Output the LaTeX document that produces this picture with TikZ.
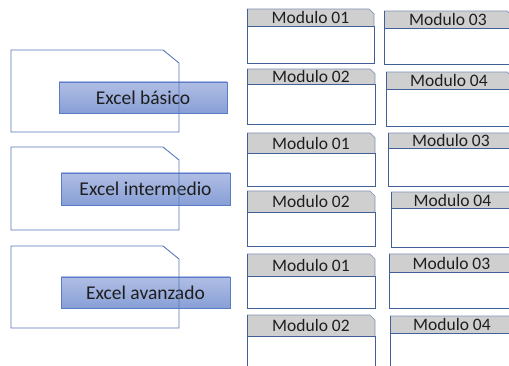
\documentclass[tikz,border=0pt]{standalone}
\usepackage{fontspec}
\setmainfont{Carlito}
\definecolor{bigline}{HTML}{5676BA}
\definecolor{lbltop}{HTML}{B0BEE4}
\definecolor{lblbot}{HTML}{889FD6}
\definecolor{lblline}{HTML}{5A7CC8}
\definecolor{modline}{HTML}{41609A}
\definecolor{hdrfill}{HTML}{CFCFCF}
\definecolor{hdrline}{HTML}{8294B8}
\definecolor{txt}{HTML}{1E1E1E}
\tikzset{
  bigshape/.style={draw=bigline, line width=0.9pt},
  lblbox/.style={draw=lblline, line width=0.7pt, top color=lbltop, bottom color=lblbot,
     inner sep=0pt, text=txt, font=\fontsize{19.5}{22}\selectfont},
  modframe/.style={draw=modline, line width=0.9pt},
  hdrframe/.style={draw=hdrline, line width=0.7pt},
  modtext/.style={inner sep=0pt, text=txt, font=\fontsize{17.5}{20}\selectfont},
}
% #1 name, #2 x-left, #3 x-right, #4 top, #5 header bottom, #6 bottom, #7 text
\newcommand\modbox[7]{%
  \fill[hdrfill] (#2,#4) -- (#3-5,#4) -- (#3,#4+5) -- (#3,#5) -- (#2,#5) -- cycle;
  \draw[hdrframe] (#2,#4) -- (#3-5,#4) -- (#3,#4+5) -- (#3,#5);
  \draw[modframe] (#2,#4) -- (#2,#6) -- (#3,#6) -- (#3,#5) -- (#2,#5);
  \node[modtext] (#1) at ({(#2+#3)/2},{(#4+#5)/2}) {#7};
}
% #1 name, #2 top, #3 bottom, #4 label x-left, #5 label x-right, #6 label top, #7 label bottom
\newcommand\bigbox[8]{%
  \node[lblbox, minimum width={#5-#4}, minimum height={#7-#6}] (#1)
     at ({(#4+#5)/2},{(#6+#7)/2}) {#8};
  \draw[bigshape] (11,#2) -- (163,#2) -- (179,#2+13) -- (179,#3) -- (11,#3) -- cycle;
}
\begin{document}
\begin{tikzpicture}[x=1pt,y=-1pt]
\useasboundingbox (0,0) rectangle (509,366);
\clip (0,0) rectangle (509,366);

\bigbox{basico}{50}{132}{59}{227}{82}{113}{Excel básico}
\bigbox{intermedio}{147}{230}{61}{230}{173}{205}{Excel intermedio}
\bigbox{avanzado}{246}{328}{61}{230}{277}{308}{Excel avanzado}

\modbox{aA}{247}{374}{9}{26}{63}{Modulo 01}
\modbox{aC}{384}{512}{11}{28}{64}{Modulo 03}
\modbox{aB}{247}{375}{69}{84}{124}{Modulo 02}
\modbox{aD}{386}{512}{72}{89}{126}{Modulo 04}

\modbox{bA}{247}{375}{133}{153}{186}{Modulo 01}
\modbox{bC}{388}{514}{133}{148}{186}{Modulo 03}
\modbox{bB}{247}{375}{191}{212}{246}{Modulo 02}
\modbox{bD}{391}{514}{192}{208}{247}{Modulo 04}

\modbox{cA}{247}{375}{254}{276}{308}{Modulo 01}
\modbox{cC}{389}{514}{254}{272}{308}{Modulo 03}
\modbox{cB}{247}{375}{315}{336}{372}{Modulo 02}
\modbox{cD}{390}{514}{316}{333}{372}{Modulo 04}
\end{tikzpicture}
\end{document}
